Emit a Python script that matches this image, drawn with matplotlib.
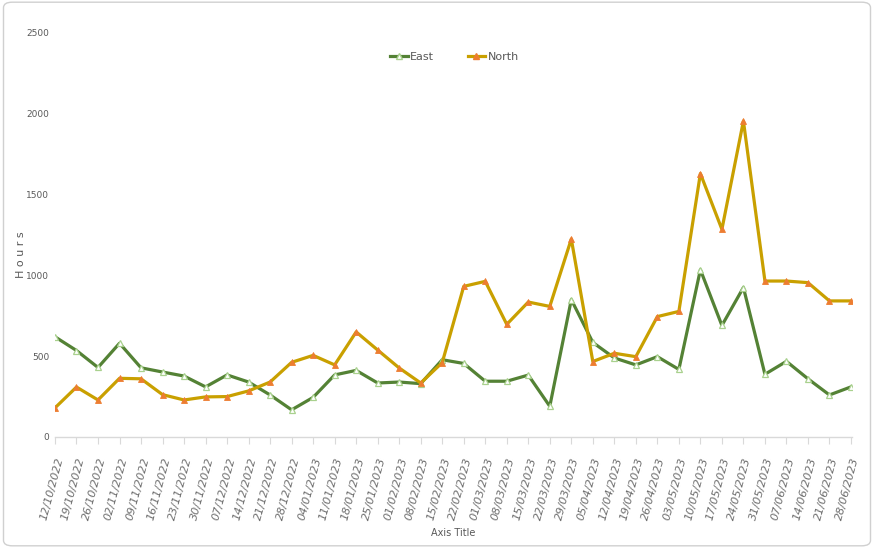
import matplotlib
matplotlib.use("Agg")
import matplotlib.pyplot as plt
from matplotlib.patches import FancyBboxPatch
from matplotlib.lines import Line2D

dates = ["12/10/2022", "19/10/2022", "26/10/2022", "02/11/2022", "09/11/2022",
         "16/11/2022", "23/11/2022", "30/11/2022", "07/12/2022", "14/12/2022",
         "21/12/2022", "28/12/2022", "04/01/2023", "11/01/2023", "18/01/2023",
         "25/01/2023", "01/02/2023", "08/02/2023", "15/02/2023", "22/02/2023",
         "01/03/2023", "08/03/2023", "15/03/2023", "22/03/2023", "29/03/2023",
         "05/04/2023", "12/04/2023", "19/04/2023", "26/04/2023", "03/05/2023",
         "10/05/2023", "17/05/2023", "24/05/2023", "31/05/2023", "07/06/2023",
         "14/06/2023", "21/06/2023", "28/06/2023"]

east = [620, 535, 430, 580, 428, 402, 377, 310, 384, 340, 260, 168, 245, 384,
        412, 334, 340, 330, 478, 455, 345, 345, 383, 190, 850, 585, 489, 446,
        497, 418, 1035, 690, 925, 388, 468, 360, 260, 310]

north = [180, 309, 229, 363, 360, 262, 229, 248, 250, 285, 340, 462, 505, 446,
         650, 538, 427, 334, 460, 932, 963, 697, 835, 808, 1225, 467, 518, 497,
         745, 777, 1630, 1285, 1955, 965, 965, 955, 842, 842]

y_ticks = [0, 500, 1000, 1500, 2000, 2500]

plt.rcParams["font.family"] = ["DejaVu Sans"]
TXT = "#595959"
GREEN = "#548235"
GOLD = "#c9a000"
ORANGE = "#ed7d31"

fig = plt.figure(figsize=(8.74, 5.48), dpi=100)
fig.patches.append(FancyBboxPatch((0.004, 0.004), 0.992, 0.992,
                                  boxstyle="round,pad=0,rounding_size=0.01",
                                  transform=fig.transFigure, fill=False,
                                  edgecolor="#d0d0d0", linewidth=1.0))

ax = fig.add_axes([0.0629, 0.2026, 0.9120, 0.7372])
x = list(range(len(dates)))

ax.plot(x, east, color=GREEN, lw=2.3, marker="^", ms=5,
        markerfacecolor="white", markeredgecolor="#a9d18e", markeredgewidth=0.9,
        label="East", zorder=3)
ax.plot(x, north, color=GOLD, lw=2.3, marker="^", ms=5,
        markerfacecolor=ORANGE, markeredgecolor=ORANGE, markeredgewidth=0.6,
        label="North", zorder=3)

ax.set_xlim(0, 37.05)
ax.set_ylim(0, 2500)
ax.set_yticks(y_ticks)
ax.set_yticklabels([str(v) for v in y_ticks], fontsize=6.5, color=TXT)
ax.tick_params(axis="y", length=0, pad=4)

ax.set_xticks(x)
ax.set_xticklabels(dates, rotation=75, ha="right", va="top",
                   rotation_mode="anchor", fontsize=8, color="#6e6e6e",
                   style="italic")
ax.tick_params(axis="x", length=5, color="#d9d9d9", pad=9)

for s in ["top", "right", "left"]:
    ax.spines[s].set_visible(False)
ax.spines["bottom"].set_color("#d9d9d9")
ax.spines["bottom"].set_linewidth(1.0)

fig.text(0.024, 0.535, "H o u r s", rotation=90, ha="center", va="center",
         fontsize=8, color=TXT)
fig.text(0.519, 0.027, "Axis Title", ha="center", va="center",
         fontsize=7, color=TXT)

handles = [Line2D([0], [0], color=GREEN, lw=2.3, marker="^", ms=5,
                  markerfacecolor="white", markeredgecolor="#a9d18e"),
           Line2D([0], [0], color=GOLD, lw=2.3, marker="^", ms=5,
                  markerfacecolor=ORANGE, markeredgecolor=ORANGE)]
fig.legend(handles, ["East", "North"], loc="center", bbox_to_anchor=(0.52, 0.896),
           ncol=2, frameon=False, fontsize=8, labelcolor=TXT,
           handlelength=1.6, handletextpad=0.2, columnspacing=3.0)

fig.savefig("out.png", dpi=100)
